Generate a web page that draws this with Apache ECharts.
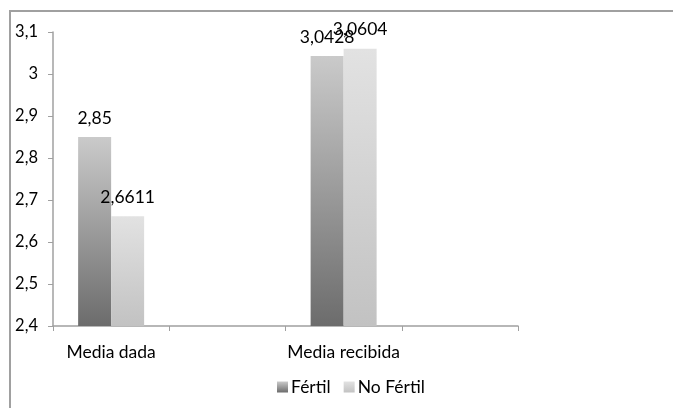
<!DOCTYPE html>
<html><head><meta charset="utf-8">
<script src="https://cdn.jsdelivr.net/npm/echarts@6/dist/echarts.min.js"></script>
<style>html,body{margin:0;padding:0;background:#fff}#c{width:673px;height:408px}</style>
</head><body><div id="c"></div>
<script>
var categories = ["Media dada", "", "Media recibida", ""];
var seriesNames = ["Fértil", "No Fértil"];
var fertil = [2.85, "-", 3.0428, "-"];
var noFertil = [2.6611, "-", 3.0604, "-"];
var yMin = 2.4, yMax = 3.1, yStep = 0.1;

function comma(v){ return String(+(+v).toFixed(4)).replace('.', ','); }
function grad(top, bottom){
  return new echarts.graphic.LinearGradient(0,0,0,1,[{offset:0,color:top},{offset:1,color:bottom}]);
}
var font = 'Lato, "Open Sans", sans-serif';
var fs = 17.5;
var chart = echarts.init(document.getElementById('c'), null, {renderer:'canvas'});
chart.setOption({
  animation:false,
  graphic:[{type:'rect', shape:{x:10,y:11,width:700,height:420}, style:{fill:'none',stroke:'#a0a0a0',lineWidth:2}, silent:true}],
  grid:{left:53, right:155, top:32, bottom:82},
  legend:{left:272, top:373, itemWidth:11, itemHeight:11, itemGap:13,
    textStyle:{fontFamily:font, fontSize:fs, color:'#000', padding:[0,0,0,-2]},
    data:[{name:seriesNames[0], icon:'rect'},{name:seriesNames[1], icon:'rect'}]},
  xAxis:{type:'category', data:categories, boundaryGap:true,
    axisLine:{lineStyle:{color:'#a0a0a0', width:1.5}},
    axisTick:{show:true, length:5, alignWithLabel:false, interval:0, lineStyle:{color:'#a0a0a0'}},
    axisLabel:{interval:0, margin:17, fontFamily:font, fontSize:fs, color:'#000'}},
  yAxis:{type:'value', min:yMin, max:yMax, interval:yStep,
    splitLine:{show:false},
    axisLine:{show:true, lineStyle:{color:'#a0a0a0', width:1.5}},
    axisTick:{show:true, length:5, lineStyle:{color:'#a0a0a0'}},
    axisLabel:{margin:15, fontFamily:font, fontSize:16.5, color:'#000', formatter:function(v){return comma(v);}}},
  series:[
    {name:seriesNames[0], type:'bar', data:fertil, barWidth:33, barGap:'0%',
      itemStyle:{color:grad('#cacaca','#6c6c6c')},
      label:{show:true, position:'top', distance:10, fontFamily:font, fontSize:fs, color:'#000', formatter:function(p){return comma(p.value);}}},
    {name:seriesNames[1], type:'bar', data:noFertil, barWidth:33, barGap:'0%',
      itemStyle:{color:grad('#e2e2e2','#c2c2c2')},
      label:{show:true, position:'top', distance:10, fontFamily:font, fontSize:fs, color:'#000', formatter:function(p){return comma(p.value);}}}
  ]
});
</script></body></html>
